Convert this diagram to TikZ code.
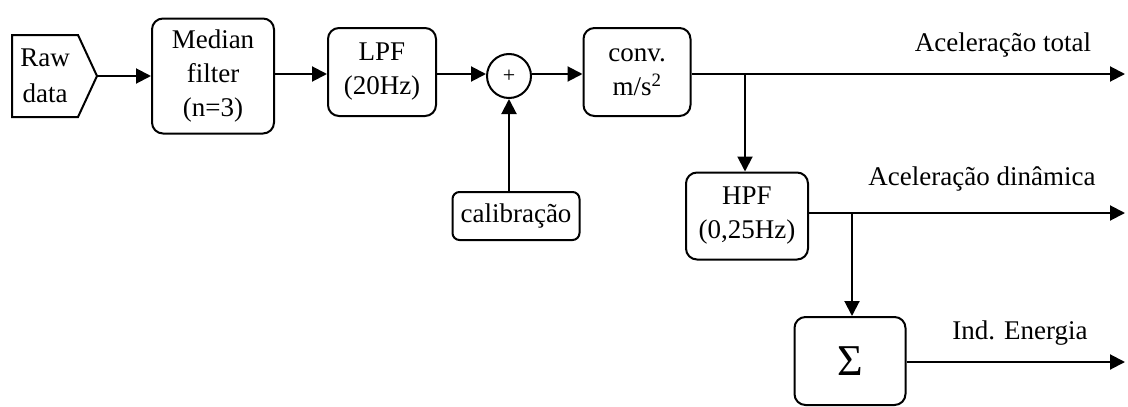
\documentclass[tikz,border=0pt]{standalone}
\usepackage{fontspec}
\setmainfont{Liberation Serif}
\usetikzlibrary{arrows.meta}
\begin{document}
\begin{tikzpicture}[x=1pt,y=-1pt,
  blk/.style={draw,line width=2pt,rounded corners=11pt,align=center,font=\fontsize{27}{34}\selectfont,inner sep=0pt},
  lbl/.style={font=\fontsize{27}{30}\selectfont,inner sep=0pt},
  arr/.style={line width=2pt,-{Triangle[length=15pt,width=15pt]}},
  ln/.style={line width=2pt}]
\useasboundingbox (0,0) rectangle (1128,407);
% Raw data
\draw[ln] (12,35) -- (78,35) -- (97,76) -- (78,117) -- (12,117) -- cycle;
\node[align=center,font=\fontsize{27}{36}\selectfont,inner sep=0pt] (raw) at (45,76) {Raw\\data};
\coordinate (rawtip) at (97,76);
\node[blk,minimum width=122pt,minimum height=115pt] (med) at (213,76) {Median\\filter\\(n=3)};
\node[blk,minimum width=108pt,minimum height=88pt] (lpf) at (382,72) {LPF\\(20Hz)};
\node[draw,circle,line width=2pt,minimum size=44pt,inner sep=0pt,font=\fontsize{22}{22}\selectfont] (sum) at (509,76) {+};
\node[blk,minimum width=107pt,minimum height=88pt] (conv) at (637,72) {conv.\\m/s\textsuperscript{2}};
\node[blk,rounded corners=7pt,minimum width=127pt,minimum height=48pt] (cal) at (516,216) {calibração};
\node[blk,minimum width=122pt,minimum height=87pt] (hpf) at (747,216) {HPF\\(0,25Hz)};
\node[blk,minimum width=111pt,minimum height=88pt,font=\fontsize{44}{44}\selectfont] (sig) at (850,361) {Σ};
% outputs
\coordinate (o1) at (1125,74);
\coordinate (o2) at (1125,213);
\coordinate (o3) at (1125,362);
\coordinate (b1) at (745,74);
\coordinate (b2) at (852,213);
\draw[arr] (rawtip) -- (med.west |- rawtip);
\draw[arr] (med.east |- 0,74) -- (lpf.west |- 0,74);
\draw[arr] (lpf.east |- 0,74) -- (sum.west |- 0,74);
\draw[arr] (sum.east |- 0,74) -- (conv.west |- 0,74);
\draw[arr] (cal.north -| sum.south) -- (sum.south);
\draw[arr] (conv.east |- o1) -- (o1);
\draw[arr] (b1) -- (b1 |- hpf.north);
\draw[arr] (hpf.east |- o2) -- (o2);
\draw[arr] (b2) -- (b2 |- sig.north);
\draw[arr] (sig.east |- o3) -- (o3);
\node[lbl] (l1) at (1003,45) {Aceleração total};
\node[lbl] (l2) at (982,179) {Aceleração dinâmica};
\node[lbl] (l3) at (1020,333) {Ind. Energia};
\end{tikzpicture}
\end{document}
